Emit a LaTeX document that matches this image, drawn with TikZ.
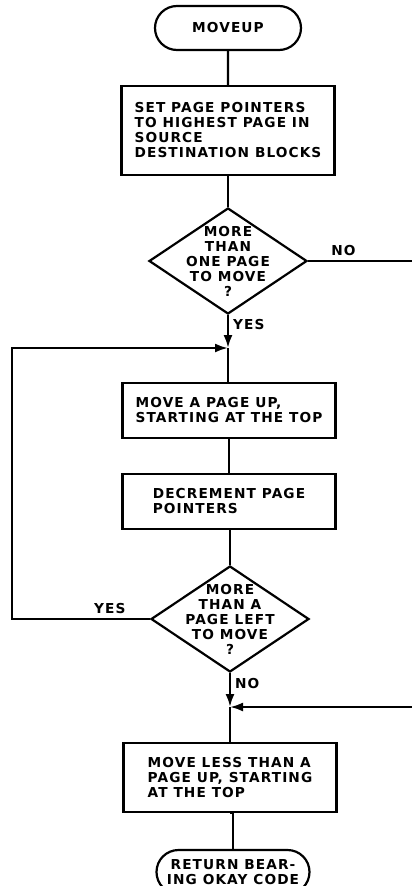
\documentclass[tikz,border=0pt]{standalone}
\usepackage{fontspec}
\setmainfont{DejaVu Sans}[LetterSpace=8]
\usetikzlibrary{shapes.geometric,shapes.misc,arrows.meta}

\newcommand{\flowfont}{\fontsize{13.7}{15}\selectfont\bfseries}

\tikzset{
  box/.style={draw, line width=2.2pt, minimum width=213pt, align=left, inner sep=0pt},
  term/.style={draw, rounded rectangle, line width=2.2pt, minimum height=44pt, align=center, inner sep=0pt},
  decision/.style={draw, diamond, line width=2.2pt, minimum width=158pt, minimum height=106pt, inner sep=0pt},
  dtext/.style={align=center, inner sep=0pt},
  flow/.style={line width=2.2pt},
  into/.style={flow, -{Latex[length=13pt,width=9pt]}},
  tag/.style={inner sep=4pt}
}

\begin{document}
\begin{tikzpicture}[x=1pt, y=-1pt, every node/.style={font=\flowfont}]
  \path[use as bounding box] (0,0) rectangle (412,886);
  \clip (0,0) rectangle (412,886);

  % main column
  \node [term, minimum width=146pt] (start) at (228,28) {MOVEUP};
  \node [box, minimum height=89pt] (setptr) at (228,130.5) {SET PAGE POINTERS\\TO HIGHEST PAGE IN\\SOURCE\\DESTINATION BLOCKS};
  \node [decision, label={[dtext]center:MORE\\THAN\\ONE PAGE\\TO MOVE\\?}] (onepage) at (228,261) {};
  \coordinate (loopin) at (228,348);
  \node [box, minimum height=55pt] (movepage) at (229,410.5) {MOVE A PAGE UP,\\STARTING AT THE TOP};
  \node [box, minimum height=55pt] (decptr) at (229,501.5) {DECREMENT PAGE\\POINTERS};
  \node [decision, label={[dtext]center:MORE\\THAN A\\PAGE LEFT\\TO MOVE\\?}] (pageleft) at (230,619) {};
  \coordinate (restin) at (230,707);
  \node [box, minimum height=69pt] (moverest) at (230,777.5) {MOVE LESS THAN A\\PAGE UP, STARTING\\AT THE TOP};
  \node [term, minimum width=153pt] (return) at (233,872) {RETURN BEAR-\\ING OKAY CODE};

  % loop and off-page ends
  \coordinate (loopx) at (12,0);
  \coordinate (noout) at (412,261);
  \coordinate (noin) at (412,707);

  \draw [flow] (start) -- (setptr);
  \draw [flow] (setptr) -- (onepage);
  \draw [flow] (onepage.east) -- (noout) node [tag, above, pos=0.34] {NO};
  \draw [into] (onepage.south) -- (loopin) node [tag, right, pos=0.3] {YES};
  \draw [flow] (loopin) -- (loopin |- movepage.north);
  \draw [flow] (movepage) -- (decptr);
  \draw [flow] (decptr.south) -- (decptr.south -| pageleft.north) -- (pageleft.north);
  \draw [into] (pageleft.west) -- (pageleft.west -| loopx) node [tag, above, pos=0.29] {YES} |- (loopin);
  \draw [into] (pageleft.south) -- (restin) node [tag, right, pos=0.3] {NO};
  \draw [into] (noin) -- (restin);
  \draw [flow] (restin) -- (moverest);
  \draw [flow] (moverest.south) -- (moverest.south -| return.north) -- (return.north);
\end{tikzpicture}
\end{document}
